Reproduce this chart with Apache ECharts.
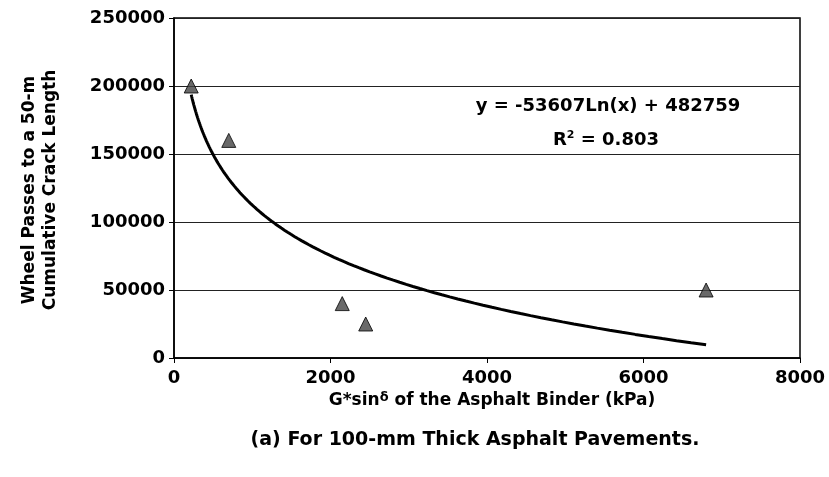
<!DOCTYPE html>
<html>
<head>
<meta charset="utf-8">
<script src="https://cdn.jsdelivr.net/npm/echarts@6/dist/echarts.min.js"></script>
<style>
  html, body { margin: 0; padding: 0; background: #fff; }
  #chart { width: 829px; height: 477px; }
</style>
</head>
<body>
<div id="chart"></div>
<script>
// Measured binder stiffness (kPa) and wheel passes to a 50-m crack length
const binderGstarSin = [220, 700, 2150, 2450, 6800];
const wheelPasses = [200000, 160000, 40000, 25000, 50000];

// Logarithmic trend line coefficients: y = a*ln(x) + b
const trendA = -53607;
const trendB = 482759;
const trendR2 = 0.803;

const xTicks = [0, 2000, 4000, 6000, 8000];
const yTicks = [0, 50000, 100000, 150000, 200000, 250000];

// Sample the fitted curve across the measured range
const xMin = Math.min(...binderGstarSin);
const xMax = Math.max(...binderGstarSin);
const trendPts = [];
for (let i = 0; i <= 120; i++) {
  const x = xMin * Math.pow(xMax / xMin, i / 120);
  trendPts.push([x, trendA * Math.log(x) + trendB]);
}

const font = '"DejaVu Sans", Arial, sans-serif';
const plain = v => String(v);
const chart = echarts.init(document.getElementById('chart'));
chart.setOption({
  backgroundColor: '#fff',
  animation: false,
  grid: { left: 174, right: 29, top: 18, bottom: 119, show: true, borderColor: '#000', borderWidth: 1.5 },
  xAxis: {
    type: 'value', min: xTicks[0], max: xTicks[xTicks.length - 1], interval: 2000,
    axisLine: { lineStyle: { color: '#000', width: 1.5 } },
    axisTick: { show: true, length: 5, lineStyle: { color: '#000' } },
    axisLabel: { color: '#000', fontFamily: font, fontWeight: 'bold', fontSize: 18, margin: 11, formatter: plain },
    splitLine: { show: false }
  },
  yAxis: {
    type: 'value', min: yTicks[0], max: yTicks[yTicks.length - 1], interval: 50000,
    axisLine: { show: true, lineStyle: { color: '#000', width: 1.5 } },
    axisTick: { show: true, length: 5, lineStyle: { color: '#000' } },
    axisLabel: { color: '#000', fontFamily: font, fontWeight: 'bold', fontSize: 18, margin: 9, formatter: plain },
    splitLine: { show: true, lineStyle: { color: '#222', width: 1 } }
  },
  title: [
    {
      text: 'G*sin{d|δ} of the Asphalt Binder (kPa)',
      left: 487, top: 386, textAlign: 'center',
      textStyle: {
        color: '#000', fontFamily: font, fontWeight: 'bold', fontSize: 17,
        rich: { d: { fontFamily: font, fontSize: 13, verticalAlign: 'top', padding: [0, 0, 6, 0], color: '#000' } }
      }
    },
    {
      text: '(a) For 100-mm Thick Asphalt Pavements.',
      left: 470, top: 426, textAlign: 'center',
      textStyle: { color: '#000', fontFamily: font, fontWeight: 'bold', fontSize: 19 }
    },
    {
      text: 'y = -53607Ln(x) + 482759',
      left: 603, top: 92, textAlign: 'center',
      textStyle: { color: '#000', fontFamily: font, fontWeight: 'bold', fontSize: 18 }
    },
    {
      text: 'R{s|2} = ' + trendR2.toFixed(3),
      left: 601, top: 125, textAlign: 'center',
      textStyle: {
        color: '#000', fontFamily: font, fontWeight: 'bold', fontSize: 18,
        rich: { s: { fontFamily: font, fontWeight: 'bold', fontSize: 11, verticalAlign: 'top', padding: [0, 0, 9, 0], color: '#000' } }
      }
    }
  ],
  graphic: [
    {
      type: 'text', x: 40, y: 190, rotation: Math.PI / 2,
      style: {
        text: 'Wheel Passes to a 50-m\nCumulative Crack Length',
        fill: '#000', font: 'bold 17px ' + font, align: 'center', verticalAlign: 'middle', lineHeight: 21
      }
    }
  ],
  series: [
    {
      type: 'line', data: trendPts, showSymbol: false, smooth: false,
      lineStyle: { color: '#000', width: 3 }, z: 2
    },
    {
      type: 'scatter', data: binderGstarSin.map((x, i) => [x, wheelPasses[i]]),
      symbol: 'triangle', symbolSize: 14,
      itemStyle: { color: '#444', borderColor: '#000', borderWidth: 1 }, z: 3
    }
  ]
});
</script>
</body>
</html>
